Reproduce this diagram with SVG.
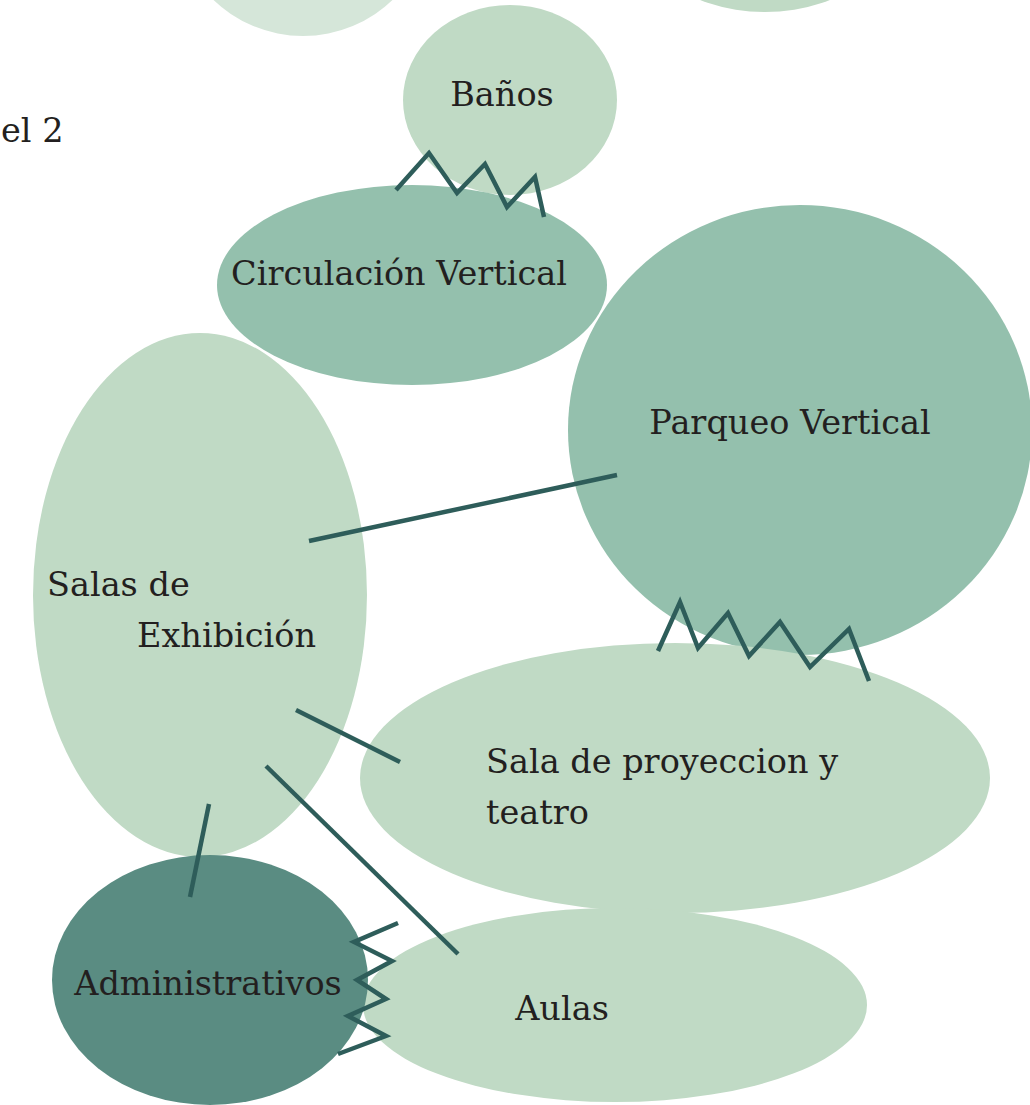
<svg xmlns="http://www.w3.org/2000/svg" width="1030" height="1105" viewBox="0 0 1030 1105">
<style>
.lt{fill:#c0dac5}
.lt2{fill:#d5e6d9}
.md{fill:#94c0ad}
.dk{fill:#5a8c82}
text{font-family:"DejaVu Serif","Liberation Serif",serif;font-size:33.5px;fill:#231f20}
.c{stroke:#2e5d5a;stroke-width:4.5;fill:none;stroke-linejoin:miter;stroke-linecap:butt}
</style>
<rect width="1030" height="1105" fill="#ffffff"/>
<g id="bg-top-left"><ellipse class="lt2" cx="303" cy="-95" rx="130" ry="131"/></g>
<g id="bg-top-right"><ellipse class="lt" cx="765" cy="-110" rx="150" ry="122"/></g>
<text x="1" y="142">el 2</text>
<g id="node-banos"><ellipse class="lt" cx="510" cy="100" rx="107" ry="95"/><text x="502" y="106" text-anchor="middle">Baños</text></g>
<g id="node-circulacion"><ellipse class="md" cx="412" cy="285" rx="195" ry="100"/><text x="399" y="285" text-anchor="middle">Circulación Vertical</text></g>
<g id="node-parqueo"><ellipse class="md" cx="800" cy="430" rx="232" ry="225"/><text x="790" y="434" text-anchor="middle">Parqueo Vertical</text></g>
<g id="node-salas"><ellipse class="lt" cx="200" cy="595" rx="167" ry="262"/><text x="47" y="596">Salas de</text><text x="137" y="647">Exhibición</text></g>
<g id="node-proyeccion"><ellipse class="lt" cx="675" cy="778" rx="315" ry="135"/><text x="486" y="773">Sala de proyeccion y</text><text x="486" y="824">teatro</text></g>
<g id="node-aulas"><ellipse class="lt" cx="615" cy="1005" rx="252" ry="97"/><text x="562" y="1020" text-anchor="middle">Aulas</text></g>
<g id="node-admin"><ellipse class="dk" cx="210" cy="980" rx="158" ry="125"/><text x="208" y="995" text-anchor="middle">Administrativos</text></g>
<g id="connectors">
<polyline class="c" points="396,190 429,153 457,193 485,164 507,207 535,177 544,217"/>
<polyline class="c" points="658,651 680,602 698,648 728,613 749,656 780,622 810,667 849,629 869,681"/>
<polyline class="c" points="398,923 354,942 392,961 357,980 386,999 348,1016 386,1036 338,1054"/>
<line class="c" x1="309" y1="541" x2="617" y2="475"/>
<line class="c" x1="296" y1="710" x2="400" y2="762"/>
<line class="c" x1="266" y1="766" x2="458" y2="954"/>
<line class="c" x1="209" y1="804" x2="190" y2="897"/>
</g>
</svg>
